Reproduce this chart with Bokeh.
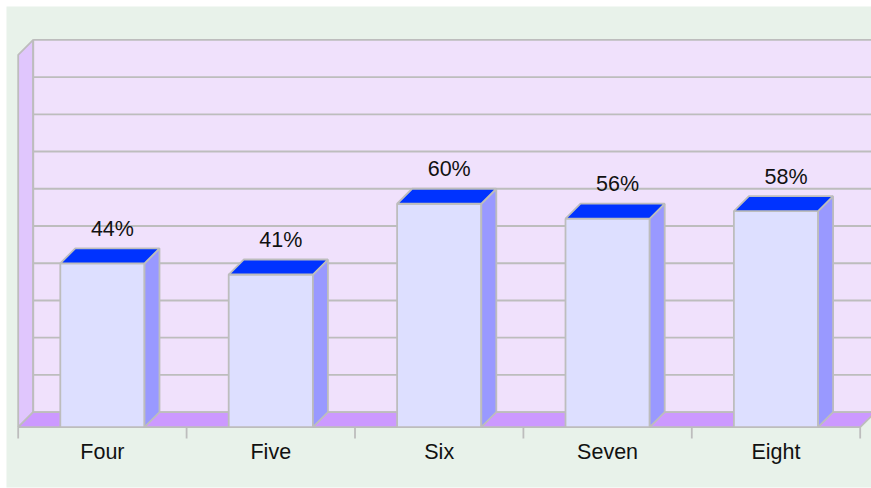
from bokeh.plotting import figure
from bokeh.models import Range1d
from bokeh.embed import file_html
from bokeh.resources import INLINE
from bokeh.core.properties import value

# Chart data
categories = ["Four", "Five", "Six", "Seven", "Eight"]
percentages = [44, 41, 60, 56, 58]
grid_values = [0, 10, 20, 30, 40, 50, 60, 70, 80, 90, 100]

# Pixel scale of the plotting frame and the 3D depth offset (15 px each way)
PX_X = 168.4          # pixels per category
PX_Y = 3.724          # pixels per percentage point
DX = 15 / PX_X
DY = 15 / PX_Y
n = len(categories)

EDGE = "#BDBDBD"
FONT = "Liberation Sans"

p = figure(
    width=871, height=488,
    x_range=Range1d(-11.7 / PX_X, (871 - 17.7) / PX_X),
    y_range=Range1d(-(487 - 426.7) / PX_Y, (426.7 - 6) / PX_Y),
    x_axis_location=None, y_axis_location=None,
    toolbar_location=None, output_backend="svg",
    min_border_left=6, min_border_top=6, min_border_right=0, min_border_bottom=1,
    background_fill_color="#E8F2EA", border_fill_color="white",
    outline_line_color=None,
)
p.grid.visible = False

# Back wall
p.patch([DX, DX, n + 2, n + 2], [DY, DY + 100, DY + 100, DY],
        fill_color="#F0E1FC", line_color=None)

# Left side wall
p.patch([0, 0, DX, DX], [0, 100, 100 + DY, DY],
        fill_color="#E0C6FD", line_color=EDGE, line_width=1.8)

# Floor
p.patch([0, n, n + DX, DX], [0, 0, DY, DY],
        fill_color="#CC99FF", line_color=EDGE, line_width=1.8)

# Horizontal grid lines on the back wall
p.segment(x0=[DX] * len(grid_values), y0=[DY + g for g in grid_values],
          x1=[n + 2] * len(grid_values), y1=[DY + g for g in grid_values],
          line_color=EDGE, line_width=1.8)
p.segment(x0=[DX], y0=[DY], x1=[DX], y1=[DY + 100], line_color=EDGE, line_width=1.8)

# 3D bars: front face, right side face and top face
lefts = [i + 0.25 for i in range(n)]
rights = [i + 0.75 for i in range(n)]

p.quad(left=lefts, right=rights, bottom=[0] * n, top=percentages,
       fill_color="#DDDFFF", line_color=EDGE, line_width=1.8)

side_xs = [[r, r, r + DX, r + DX] for r in rights]
side_ys = [[0, v, v + DY, DY] for v in percentages]
p.patches(side_xs, side_ys, fill_color="#9999FF", line_color=EDGE, line_width=1.8)

top_xs = [[l, r, r + DX, l + DX] for l, r in zip(lefts, rights)]
top_ys = [[v, v, v + DY, v + DY] for v in percentages]
p.patches(top_xs, top_ys, fill_color="#0033FF", line_color=EDGE, line_width=1.8)

# Value labels above the bars
p.text(x=[i + 0.5 + 10 / PX_X for i in range(n)],
       y=[v + 34.5 / PX_Y for v in percentages],
       text=[f"{v}%" for v in percentages],
       text_font=value(FONT), text_font_size="21.5px", text_color="#111111",
       text_align="center", text_baseline="alphabetic")

# Category axis: ticks at category boundaries, labels at centres
p.segment(x0=list(range(n + 1)), y0=[0] * (n + 1),
          x1=list(range(n + 1)), y1=[-11.3 / PX_Y] * (n + 1),
          line_color=EDGE, line_width=1.8)
p.text(x=[i + 0.5 for i in range(n)], y=[-(451.0 - 426.7) / PX_Y] * n,
       text=categories,
       text_font=value(FONT), text_font_size="21.5px", text_color="#111111",
       text_align="center", text_baseline="alphabetic")

open("out.html", "w").write(file_html(p, INLINE))
